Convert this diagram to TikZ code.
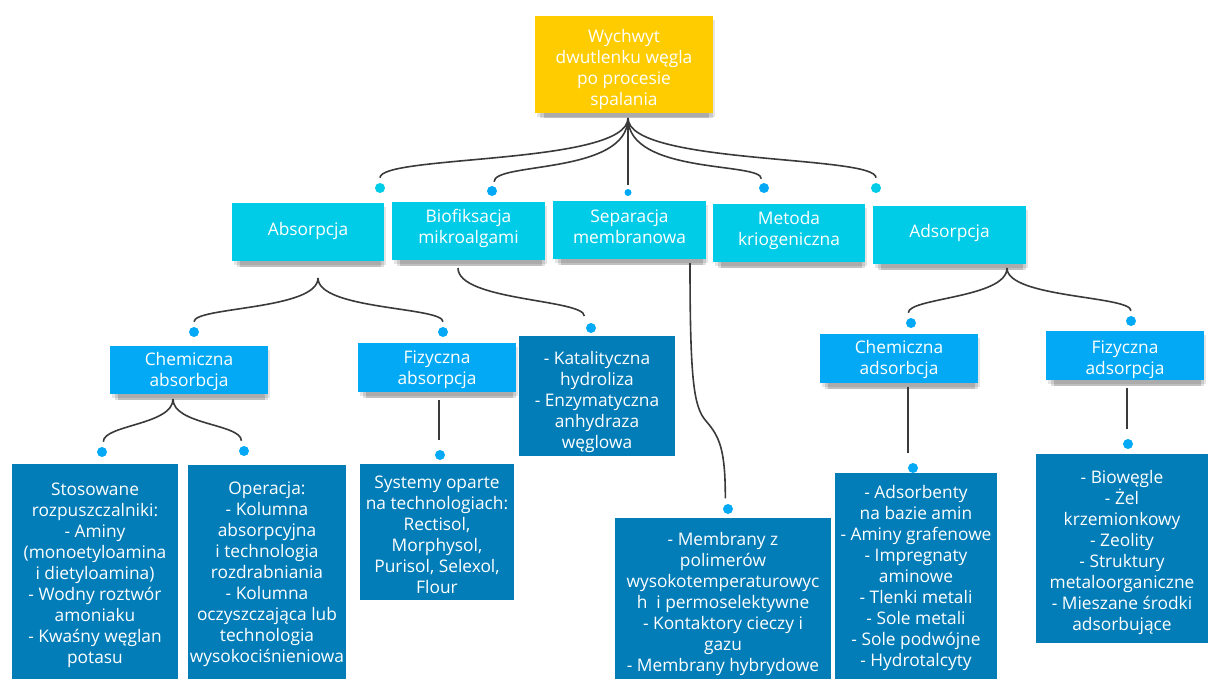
\documentclass[tikz,border=0pt]{standalone}
\usepackage{fontspec}
\setmainfont{Open Sans}
\usetikzlibrary{shadows,calc}
\definecolor{cyell}{RGB}{255,204,0}
\definecolor{ccyan}{RGB}{0,204,232}
\definecolor{cblue}{RGB}{3,169,244}
\definecolor{cdark}{RGB}{2,125,184}
\definecolor{cline}{RGB}{58,58,58}
\begin{document}
\begin{tikzpicture}[x=0.75pt,y=-0.75pt,
  box/.style={rectangle, inner sep=0pt},
  txt/.style={inner sep=0pt, align=center, text=white,
    font=\fontsize{13}{15.75}\selectfont},
  bw/.style={minimum width=#1*0.75pt},
  bh/.style={minimum height=#1*0.75pt},
  shd/.style={
    drop shadow={shadow xshift=1.5pt,shadow yshift=-3pt,opacity=.10,fill=black},
    drop shadow={shadow xshift=2pt,shadow yshift=-5pt,opacity=.12,fill=black,shadow scale=.97},
    drop shadow={shadow xshift=2pt,shadow yshift=-6.5pt,opacity=.15,fill=black,shadow scale=.93}},
  rootbox/.style={box, fill=cyell, shd},
  lvla/.style={box, fill=ccyan, shd},
  lvlb/.style={box, fill=cblue, shd},
  lvlc/.style={box, fill=cdark},
  bullet/.style={circle, fill=#1, inner sep=0pt, minimum size=7.5pt},
  conn/.style={draw=cline, line width=1.2pt},
]
\useasboundingbox (0,0) rectangle (1208,679);

% boxes
\node[rootbox, bw=178, bh=97] (root) at (624,64.5) {};

\node[lvla, bw=152, bh=58] (abs) at (308,232) {};
\node[lvla, bw=153, bh=58] (bio) at (468.5,231) {};
\node[lvla, bw=153, bh=58] (sep) at (629.5,230) {};
\node[lvla, bw=152, bh=58] (kri) at (789,233) {};
\node[lvla, bw=153, bh=58] (ads) at (949.5,235) {};

\node[lvlb, bw=158, bh=48] (cabs) at (189,370) {};
\node[lvlb, bw=158, bh=49] (fabs) at (437,367.5) {};
\node[lvlb, bw=158, bh=49] (cads) at (899,358.5) {};
\node[lvlb, bw=158, bh=49] (fads) at (1125,355.5) {};

\node[lvlc, bw=166, bh=216] (sto) at (95,572) {};
\node[lvlc, bw=158, bh=215] (ope) at (267,572.5) {};
\node[lvlc, bw=154, bh=136] (sys) at (437,532) {};
\node[lvlc, bw=156, bh=120] (kat) at (597,396) {};
\node[lvlc, bw=216, bh=162] (mem) at (723,599) {};
\node[lvlc, bw=162, bh=207] (adb) at (916,576.5) {};
\node[lvlc, bw=172, bh=189] (bgl) at (1122,548.5) {};

% texts
\node[txt] (root-t) at ($(root)+(0,5)$) {Wychwyt\\dwutlenku węgla\\po procesie\\spalania};
\node[txt] (abs-t) at ($(abs)+(0,-1)$) {Absorpcja};
\node[txt] (bio-t) at ($(bio)+(0,-3)$) {Biofiksacja\\mikroalgami};
\node[txt] (sep-t) at ($(sep)+(0,-3)$) {Separacja\\membranowa};
\node[txt] (kri-t) at ($(kri)+(0,-3)$) {Metoda\\kriogeniczna};
\node[txt] (ads-t) at ($(ads)+(0,-2)$) {Adsorpcja};

\node[txt] (cabs-t) at ($(cabs)+(0,1)$) {Chemiczna\\absorbcja};
\node[txt] (fabs-t) at ($(fabs)+(0,2)$) {Fizyczna\\absorpcja};
\node[txt] (cads-t) at ($(cads)+(0,1)$) {Chemiczna\\adsorbcja};
\node[txt] (fads-t) at ($(fads)+(0,4)$) {Fizyczna\\adsorpcja};

\node[txt] (sto-t) at ($(sto)+(0,3)$) {Stosowane\\rozpuszczalniki:\\- Aminy\\(monoetyloamina\\i dietyloamina)\\- Wodny roztwór\\amoniaku\\- Kwaśny węglan\\potasu};
\node[txt] (ope-t) at ($(ope)+(0,2)$) {Operacja:\\- Kolumna\\absorpcyjna\\i technologia\\rozdrabniania\\- Kolumna\\oczyszczająca lub\\technologia\\wysokociśnieniowa};
\node[txt] (sys-t) at ($(sys)+(0,3)$) {Systemy oparte\\na technologiach:\\Rectisol,\\Morphysol,\\Purisol, Selexol,\\Flour};
\node[txt] (kat-t) at ($(kat)+(0,6)$) {- Katalityczna\\hydroliza\\- Enzymatyczna\\anhydraza\\węglowa};
\node[txt] (mem-t) at ($(mem)+(0,5)$) {- Membrany z\\polimerów\\wysokotemperaturowyc\\h~ i permoselektywne\\- Kontaktory cieczy i\\gazu\\- Membrany hybrydowe};
\node[txt] (adb-t) at ($(adb)+(0,1.5)$) {- Adsorbenty\\na bazie amin\\- Aminy grafenowe\\- Impregnaty\\aminowe\\- Tlenki metali\\- Sole metali\\- Sole podwójne\\- Hydrotalcyty};
\node[txt] (bgl-t) at ($(bgl)+(0,4)$) {- Biowęgle\\- Żel\\krzemionkowy\\- Zeolity\\- Struktury\\metaloorganiczne\\- Mieszane środki\\adsorbujące};

% bullets
\node[bullet=ccyan] (dabs) at (380,188) {};
\node[bullet=cblue] (dbio) at (492,191) {};
\node[bullet=cblue, minimum size=5.25pt] (dsep) at (628,192.5) {};
\node[bullet=cblue] (dkri) at (764,188) {};
\node[bullet=ccyan] (dads) at (876,188) {};

\node[bullet=cblue] (dcabs) at (194,332) {};
\node[bullet=cblue] (dfabs) at (443,332) {};
\node[bullet=cblue] (dkat) at (591,328) {};
\node[bullet=cblue] (dcads) at (911,323) {};
\node[bullet=cblue] (dfads) at (1131,321) {};

\node[bullet=cblue] (dsto) at (102,452) {};
\node[bullet=cblue] (dope) at (244,451) {};
\node[bullet=cblue] (dsys) at (440,455) {};
\node[bullet=cblue] (dmem) at (728,509) {};
\node[bullet=cblue] (dadb) at (913,468) {};
\node[bullet=cblue] (dbgl) at (1128,444) {};

% junctions
\coordinate (j0) at (628,118);
\coordinate (j1) at (318,278);
\coordinate (j2) at (458,268);
\coordinate (j3) at (690,263);
\coordinate (jm) at (706,421);
\coordinate (j4) at (1007,268);
\coordinate (j5) at (173,399);
\coordinate (j6) at (439,400);
\coordinate (j7) at (908,387);
\coordinate (j8) at (1127,388);

% connectors
\draw[conn] (j0) .. controls +(0,47) and +(0,-23) .. ([yshift=3.75pt]dabs.north);
\draw[conn] (j0) .. controls +(0,57) and +(0,-20) .. ([yshift=3pt,xshift=1.5pt]dbio.north);
\draw[conn] (j0) -- ([yshift=3pt]dsep.north);
\draw[conn] (j0) .. controls +(0,57) and +(0,-17) .. ([yshift=3pt,xshift=-2pt]dkri.north);
\draw[conn] (j0) .. controls +(0,47) and +(0,-23) .. ([yshift=3.75pt]dads.north);

\draw[conn] (j1) .. controls +(0,32) and +(0,-15) .. ([yshift=3.75pt]dcabs.north);
\draw[conn] (j1) .. controls +(0,32) and +(0,-15) .. ([yshift=3.75pt]dfabs.north);
\draw[conn] (j2) .. controls +(0,33) and +(0,-17) .. ([yshift=5pt,xshift=-5pt]dkat.north);
\draw[conn] (j3) .. controls +(0,120) and +(-12,-14) .. (jm) .. controls +(14,16) and +(0,-48) .. ([yshift=4pt,xshift=-2pt]dmem.north);
\draw[conn] (j4) .. controls +(0,30) and +(0,-15) .. ([yshift=3.75pt,xshift=-2pt]dcads.north);
\draw[conn] (j4) .. controls +(0,30) and +(0,-15) .. ([yshift=3.75pt]dfads.north);

\draw[conn] (j5) .. controls +(0,26) and +(0,-17) .. ([yshift=3.75pt,xshift=1pt]dsto.north);
\draw[conn] (j5) .. controls +(0,26) and +(0,-17) .. ([yshift=3.75pt,xshift=-2pt]dope.north);
\draw[conn] (j6) -- ([yshift=7.5pt,xshift=-0.75pt]dsys.north);
\draw[conn] (j7) -- ([yshift=7.5pt,xshift=-3.75pt]dadb.north);
\draw[conn] (j8) -- ([yshift=7.5pt,xshift=-0.75pt]dbgl.north);
\end{tikzpicture}
\end{document}
